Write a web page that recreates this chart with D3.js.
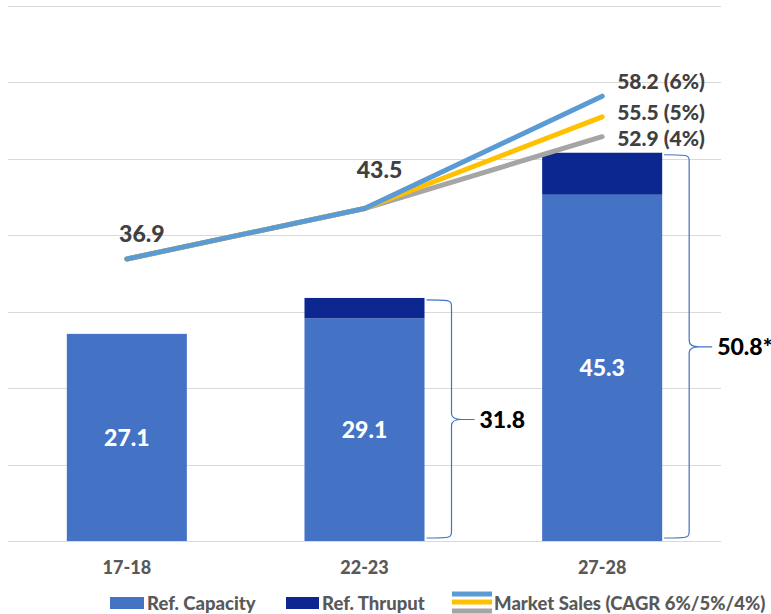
<!DOCTYPE html>
<html>
<head>
<meta charset="utf-8">
<script src="https://cdn.jsdelivr.net/npm/d3@7"></script>
<style>
  html, body { margin: 0; padding: 0; background: #fff; }
  svg { display: block; }
  text { font-family: Lato, "Open Sans", sans-serif; font-weight: 900; }
</style>
</head>
<body>
<script>
// ---- data ----
const categories = ["17-18", "22-23", "27-28"];
const capacity = [27.1, 29.1, 45.3];
const thruputTotal = [null, 31.8, 50.8];
const thruputLabels = [null, "31.8", "50.8*"];
const sales6 = [36.9, 43.5, 58.2];
const sales5 = [36.9, 43.5, 55.5];
const sales4 = [36.9, 43.5, 52.9];
const endLabels = ["58.2 (6%)", "55.5 (5%)", "52.9 (4%)"];
const yTicks = [0, 10, 20, 30, 40, 50, 60, 70];
const legendLabels = ["Ref. Capacity", "Ref. Thruput", "Market Sales (CAGR 6%/5%/4%)"];

const W = 771, H = 614;
const colCap = "#4472c4", colThru = "#0c2890";
const colBlue = "#5b9bd5", colYellow = "#ffc000", colGray = "#a5a5a5";

const svg = d3.select("body").append("svg").attr("width", W).attr("height", H);

const x = d3.scaleBand().domain(categories).range([8, 721])
  .paddingInner(0.495).paddingOuter(0.2475);
const y = d3.scaleLinear().domain([0, 70]).range([541, 6]);

// gridlines
svg.append("g").selectAll("line").data(yTicks).join("line")
  .attr("x1", 8).attr("x2", 721)
  .attr("y1", d => Math.round(y(d)) + 0.5).attr("y2", d => Math.round(y(d)) + 0.5)
  .attr("stroke", "#d9d9d9").attr("stroke-width", 1);

// category axis labels
const xAxis = d3.axisBottom(x).tickSize(0).tickPadding(0);
const gx = svg.append("g").attr("transform", "translate(0,541)").call(xAxis);
gx.select(".domain").remove();
gx.selectAll("text").attr("y", 33).attr("dy", null)
  .attr("font-size", 18).attr("fill", "#595959")
  .attr("font-family", "Lato, sans-serif").attr("font-weight", 900);

// bars
const bars = categories.map((c, i) => ({ c, cap: capacity[i], tot: thruputTotal[i], lab: thruputLabels[i] }));
svg.append("g").selectAll("rect").data(bars.filter(d => d.tot != null)).join("rect")
  .attr("x", d => x(d.c)).attr("width", x.bandwidth())
  .attr("y", d => y(d.tot)).attr("height", d => y(d.cap) - y(d.tot))
  .attr("fill", colThru);
svg.append("g").selectAll("rect").data(bars).join("rect")
  .attr("x", d => x(d.c)).attr("width", x.bandwidth())
  .attr("y", d => y(d.cap)).attr("height", d => y(0) - y(d.cap))
  .attr("fill", colCap);
svg.append("g").selectAll("text").data(bars).join("text")
  .attr("x", d => x(d.c) + x.bandwidth() / 2)
  .attr("y", d => (y(d.cap) + y(0)) / 2)
  .attr("dy", "0.36em").attr("text-anchor", "middle")
  .attr("font-size", 23).attr("fill", "#fff")
  .text(d => d.cap.toFixed(1));

// brackets
const br = svg.append("g");
bars.filter(d => d.tot != null).forEach(d => {
  const x0 = x(d.c) + x.bandwidth() + 2;
  const x1 = x0 + 25, x2 = x0 + 48;
  const top = y(d.tot) + 2, bot = y(0) - 3, mid = (y(d.tot) + y(0)) / 2;
  const p = `M${x0},${top} C${x1},${top} ${x1},${top} ${x1},${top + 8}
    L${x1},${mid - 6} Q${x1},${mid} ${x1 + 10},${mid} L${x2},${mid}
    M${x1 + 10},${mid} Q${x1},${mid} ${x1},${mid + 6}
    L${x1},${bot - 8} C${x1},${bot} ${x1},${bot} ${x0},${bot}`;
  br.append("path").attr("d", p).attr("fill", "none")
    .attr("stroke", colCap).attr("stroke-width", 1.2);
  br.append("text").attr("x", x2 + 5).attr("y", mid).attr("dy", "0.36em")
    .attr("font-size", 23).attr("fill", "#000").text(d.lab);
});

// lines
const cx = c => x(c) + x.bandwidth() / 2;
const line = d3.line().x((v, i) => cx(categories[i])).y(v => y(v));
[[sales4, colGray], [sales5, colYellow], [sales6, colBlue]].forEach(([s, col]) => {
  svg.append("path").datum(s).attr("d", line).attr("fill", "none")
    .attr("stroke", col).attr("stroke-width", 5)
    .attr("stroke-linecap", "round").attr("stroke-linejoin", "round");
});

// line labels
svg.append("text").attr("x", cx(categories[0]) + 15).attr("y", y(sales6[0]) - 17)
  .attr("text-anchor", "middle").attr("font-size", 23).attr("fill", "#404040").text(sales6[0].toFixed(1));
svg.append("text").attr("x", cx(categories[1]) + 15).attr("y", y(sales6[1]) - 31)
  .attr("text-anchor", "middle").attr("font-size", 23).attr("fill", "#404040").text(sales6[1].toFixed(1));
const endVals = [sales6[2], sales5[2], sales4[2]];
const endOff = [-7, 3, 9];
svg.append("g").selectAll("text").data(endLabels).join("text")
  .attr("x", cx(categories[2]) + 15)
  .attr("y", (d, i) => y(endVals[i]) + endOff[i])
  .attr("font-size", 21).attr("fill", "#404040").text(d => d);

// legend
const lg = svg.append("g").attr("font-size", 18.5).attr("fill", "#595959");
lg.append("rect").attr("x", 110).attr("y", 597).attr("width", 34).attr("height", 12).attr("fill", colCap);
lg.append("text").attr("x", 147).attr("y", 603).attr("dy", "0.36em").text(legendLabels[0]);
lg.append("rect").attr("x", 286).attr("y", 597).attr("width", 33).attr("height", 12).attr("fill", colThru);
lg.append("text").attr("x", 322).attr("y", 603).attr("dy", "0.36em").text(legendLabels[1]);
[[colBlue, 594], [colYellow, 602], [colGray, 611]].forEach(([c, yy]) => {
  lg.append("line").attr("x1", 452).attr("x2", 492).attr("y1", yy).attr("y2", yy)
    .attr("stroke", c).attr("stroke-width", 5);
});
lg.append("text").attr("x", 494).attr("y", 603).attr("dy", "0.36em").text(legendLabels[2]);
</script>
</body>
</html>
